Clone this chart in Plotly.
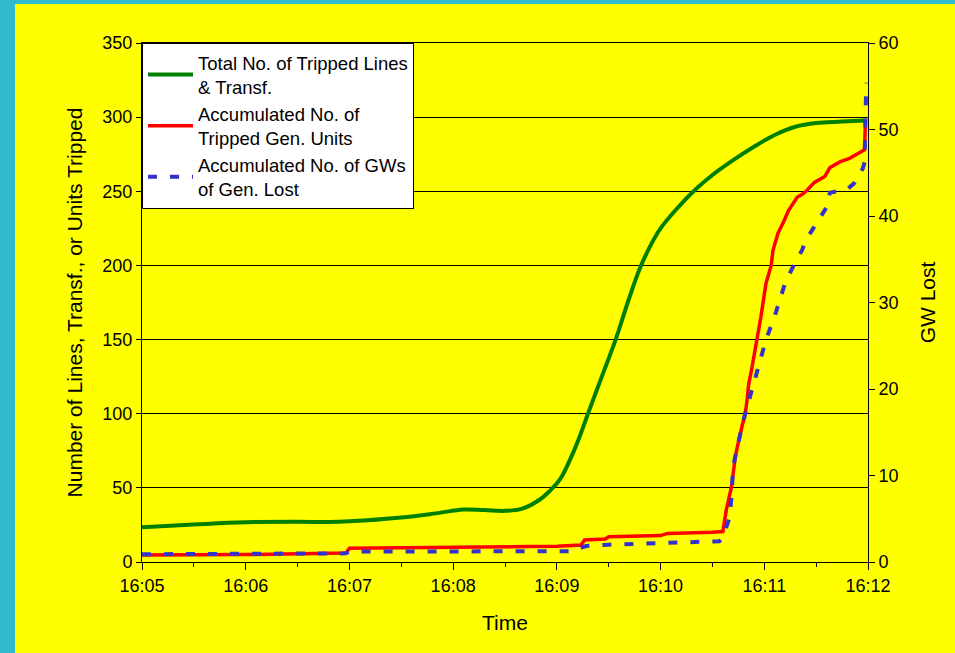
import pandas as pd
import plotly.graph_objects as go

# ── Data ───────────────────────────────────────────────────────
DAY = "2003-08-14 "

green_t = ["16:05:00", "16:05:30", "16:06:00", "16:06:30", "16:06:48", "16:07:00",
           "16:07:30", "16:07:50", "16:08:06", "16:08:18", "16:08:30", "16:08:40",
           "16:08:50", "16:08:56", "16:09:02", "16:09:08", "16:09:13", "16:09:18",
           "16:09:26", "16:09:34", "16:09:41", "16:09:48", "16:09:54", "16:10:00",
           "16:10:10", "16:10:20", "16:10:30", "16:10:42", "16:10:54", "16:11:06",
           "16:11:18", "16:11:30", "16:11:45", "16:11:58"]
green_v = [23.5, 25.3, 26.8, 27.2, 26.9, 27.4,
           30.0, 32.8, 35.4, 35.0, 34.5, 36.0,
           42, 48, 56, 70, 84, 100,
           125, 150, 175, 198, 213, 225,
           239, 251, 261, 271, 280, 288,
           293.5, 296, 297, 297.8]

red_t = ["16:05:00", "16:06:00", "16:06:58", "16:07:00", "16:07:30", "16:08:00",
         "16:08:30", "16:09:00", "16:09:14", "16:09:16", "16:09:28", "16:09:30",
         "16:10:00", "16:10:04", "16:10:30", "16:10:36", "16:10:38", "16:10:41",
         "16:10:43", "16:10:44", "16:10:47", "16:10:49", "16:10:50", "16:10:51",
         "16:10:53", "16:10:56", "16:10:58", "16:11:01", "16:11:04", "16:11:05",
         "16:11:08", "16:11:11", "16:11:14", "16:11:19", "16:11:22", "16:11:25",
         "16:11:29", "16:11:35", "16:11:38", "16:11:44", "16:11:49", "16:11:55",
         "16:11:58", "16:11:58.5"]
red_v = [4.7, 5.0, 6.0, 9.3, 9.6, 9.9,
         10.1, 10.6, 11.5, 14.8, 15.5, 17.0,
         17.8, 19.3, 20.0, 20.5, 35, 50.6,
         68.8, 75.5, 91, 100, 109, 120,
         132, 150, 165, 188, 200, 210,
         222, 229, 237, 246, 248, 251,
         256, 260, 266, 270, 272, 276,
         278, 298]

blue_t = ["16:05:00", "16:06:58", "16:07:00", "16:09:10", "16:09:13", "16:09:17",
          "16:09:30", "16:10:00", "16:10:20", "16:10:34", "16:10:36", "16:10:40",
          "16:10:41", "16:10:42", "16:10:44", "16:10:49", "16:10:54", "16:10:59",
          "16:11:01", "16:11:06", "16:11:09", "16:11:12", "16:11:17", "16:11:22",
          "16:11:24", "16:11:29", "16:11:36", "16:11:38", "16:11:48", "16:11:52",
          "16:11:57", "16:11:58", "16:11:58.5", "16:11:59"]
blue_v = [0.9, 1.0, 1.2, 1.25, 1.6, 1.85,
          2.0, 2.2, 2.35, 2.4, 2.8, 5.2,
          7.5, 11.0, 13.0, 17.2, 20.7, 24.5,
          25.7, 28.4, 30.3, 32.2, 34.3, 36.1,
          37.2, 38.7, 41.0, 42.7, 43.1, 43.8,
          45.5, 46.2, 52.3, 55.4]

x_ticks = ["16:05", "16:06", "16:07", "16:08", "16:09", "16:10", "16:11", "16:12"]

# ── Palette ────────────────────────────────────────────────────
_YELLOW = "#FFFF00"
_CYAN = "#2FBBCC"
_GREEN = "#008000"
_RED = "#FF0000"
_BLUE = "#3333CC"
_FONT = "Liberation Sans, Arial, sans-serif"


def _ts(lst):
    return pd.to_datetime([DAY + t for t in lst], format="mixed")


fig = go.Figure()

fig.add_trace(go.Scatter(
    x=_ts(green_t), y=green_v, mode="lines",
    name="Total No. of Tripped Lines<br>& Transf.",
    line=dict(color=_GREEN, width=4, shape="spline", smoothing=1.1),
))
fig.add_trace(go.Scatter(
    x=_ts(red_t), y=red_v, mode="lines",
    name="Accumulated No. of<br>Tripped Gen. Units",
    line=dict(color=_RED, width=3.5),
))
fig.add_trace(go.Scatter(
    x=_ts(blue_t), y=blue_v, mode="lines", yaxis="y2",
    name="Accumulated No. of GWs<br>of Gen. Lost",
    line=dict(color=_BLUE, width=4, dash="9px,13px"),
))

# plot area: x 142..868, y 43..562 px
W, H = 955, 653
L, R, T, B = 142, 868, 43, 562
pw, ph = R - L, B - T


def _px(x):
    return (x - L) / pw


def _py(y):
    return (B - y) / ph


# cyan frame strips (left + top)
fig.add_shape(type="rect", xref="paper", yref="paper", layer="below",
              x0=_px(0), x1=_px(15), y0=_py(H), y1=_py(0),
              fillcolor=_CYAN, line=dict(width=0))
fig.add_shape(type="rect", xref="paper", yref="paper", layer="below",
              x0=_px(0), x1=_px(W), y0=_py(4), y1=_py(0),
              fillcolor=_CYAN, line=dict(width=0))

tick_vals = _ts([t + ":00" for t in x_ticks])

fig.update_layout(
    width=W, height=H,
    paper_bgcolor=_YELLOW,
    plot_bgcolor=_YELLOW,
    font=dict(family=_FONT, color="black", size=18),
    margin=dict(l=L, r=W - R, t=T, b=H - B, pad=0),
    showlegend=True,
    legend=dict(
        x=0, y=1, xanchor="left", yanchor="top",
        bgcolor="white", bordercolor="black", borderwidth=1,
        font=dict(size=18.5, family=_FONT),
        tracegroupgap=0, itemwidth=45,
    ),
    xaxis=dict(
        type="date",
        range=[tick_vals[0], tick_vals[-1]],
        tickvals=tick_vals, ticktext=x_ticks,
        ticks="outside", ticklen=7, tickcolor="black",
        minor=dict(dtick=30000, ticks="outside", ticklen=4, tickcolor="black"),
        showline=True, linecolor="black", linewidth=1, mirror=True,
        showgrid=False, zeroline=False,
        title=dict(text="Time", font=dict(size=21), standoff=20),
    ),
    yaxis=dict(
        range=[0, 350], dtick=50,
        ticks="outside", ticklen=5, tickcolor="black",
        showline=True, linecolor="black", linewidth=1,
        showgrid=True, gridcolor="black", gridwidth=1,
        zeroline=False,
        title=dict(text="Number of Lines, Transf., or Units Tripped",
                   font=dict(size=21), standoff=14),
    ),
    yaxis2=dict(
        overlaying="y", side="right",
        range=[0, 60], dtick=10,
        ticks="outside", ticklen=6, tickcolor="black",
        showline=True, linecolor="black", linewidth=1,
        showgrid=False, zeroline=False,
        title=dict(text="GW Lost", font=dict(size=21), standoff=22),
    ),
)

fig.write_html("out.html", config={"displayModeBar": False},
               post_script="document.body.style.margin='0px';")
